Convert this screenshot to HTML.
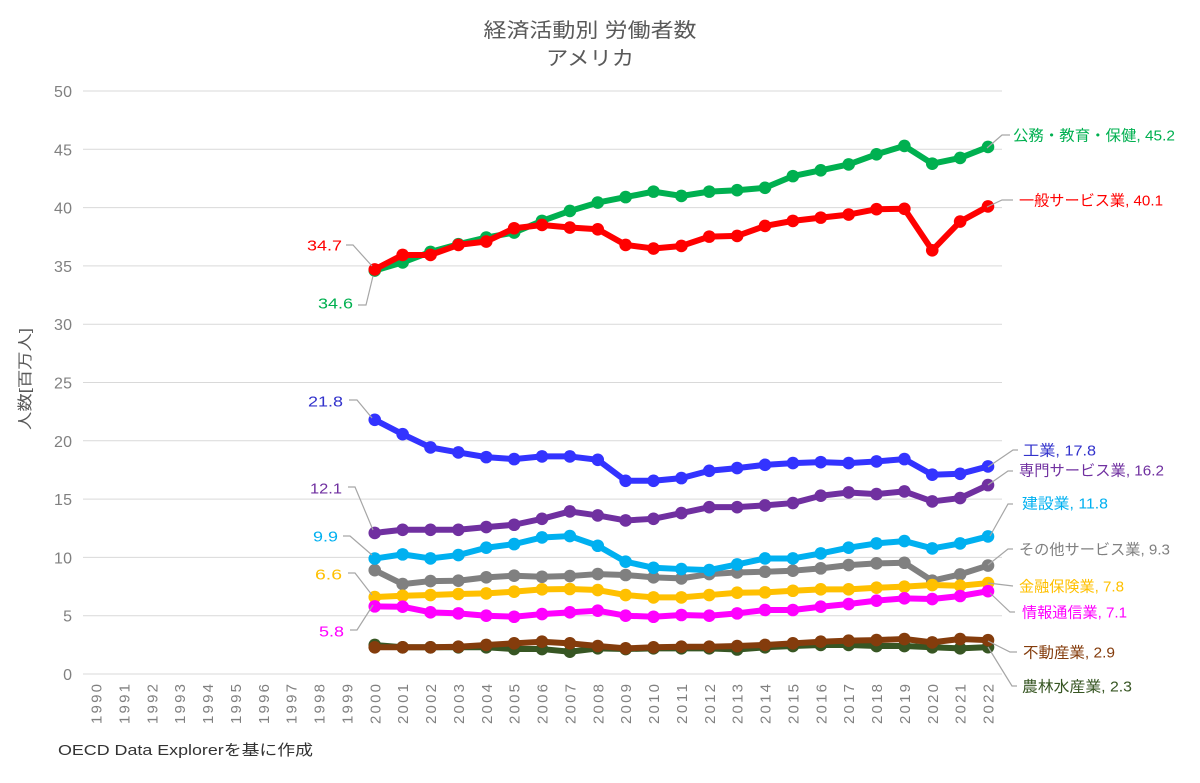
<!DOCTYPE html>
<html><head><meta charset="utf-8">
<style>
html,body{margin:0;padding:0;background:#fff;}
svg{display:block;}
text{font-family:"Liberation Sans","Noto Sans CJK JP",sans-serif;}
</style></head>
<body>
<svg id="c" width="1200" height="783" viewBox="0 0 1200 783" xmlns="http://www.w3.org/2000/svg">
<rect width="1200" height="783" fill="#fff"/>
<!-- title -->
<text x="590" y="37" font-size="20" fill="#595959" text-anchor="middle" textLength="213" lengthAdjust="spacingAndGlyphs">経済活動別 労働者数</text>
<text x="590" y="65" font-size="20" fill="#595959" text-anchor="middle" textLength="88" lengthAdjust="spacingAndGlyphs">アメリカ</text>
<!-- gridlines -->
<g stroke="#D9D9D9" stroke-width="1">
<line x1="83" x2="1002" y1="91" y2="91"/>
<line x1="83" x2="1002" y1="149.3" y2="149.3"/>
<line x1="83" x2="1002" y1="207.6" y2="207.6"/>
<line x1="83" x2="1002" y1="265.9" y2="265.9"/>
<line x1="83" x2="1002" y1="324.2" y2="324.2"/>
<line x1="83" x2="1002" y1="382.5" y2="382.5"/>
<line x1="83" x2="1002" y1="440.8" y2="440.8"/>
<line x1="83" x2="1002" y1="499.1" y2="499.1"/>
<line x1="83" x2="1002" y1="557.4" y2="557.4"/>
<line x1="83" x2="1002" y1="615.7" y2="615.7"/>
<line x1="83" x2="1002" y1="674" y2="674"/>
</g>
<!-- y tick labels -->
<g font-size="16" fill="#808080" text-anchor="end" lengthAdjust="spacingAndGlyphs">
<text x="72" y="97" textLength="18">50</text>
<text x="72" y="155.3" textLength="18">45</text>
<text x="72" y="213.6" textLength="18">40</text>
<text x="72" y="271.9" textLength="18">35</text>
<text x="72" y="330.2" textLength="18">30</text>
<text x="72" y="388.5" textLength="18">25</text>
<text x="72" y="446.8" textLength="18">20</text>
<text x="72" y="505.1" textLength="18">15</text>
<text x="72" y="563.4" textLength="18">10</text>
<text x="72" y="621.7">5</text>
<text x="72" y="680">0</text>
</g>
<!-- y axis title -->
<text transform="translate(30,379) rotate(-90)" font-size="15" fill="#595959" text-anchor="middle" textLength="102" lengthAdjust="spacingAndGlyphs">人数[百万人]</text>
<!-- x labels -->
<g font-size="15" fill="#808080" textLength="40" lengthAdjust="spacingAndGlyphs">
<text transform="translate(101.5,724) rotate(-90)" textLength="40">1990</text>
<text transform="translate(129.4,724) rotate(-90)" textLength="40">1991</text>
<text transform="translate(157.3,724) rotate(-90)" textLength="40">1992</text>
<text transform="translate(185.1,724) rotate(-90)" textLength="40">1993</text>
<text transform="translate(213,724) rotate(-90)" textLength="40">1994</text>
<text transform="translate(240.9,724) rotate(-90)" textLength="40">1995</text>
<text transform="translate(268.8,724) rotate(-90)" textLength="40">1996</text>
<text transform="translate(296.6,724) rotate(-90)" textLength="40">1997</text>
<text transform="translate(324.5,724) rotate(-90)" textLength="40">1998</text>
<text transform="translate(352.4,724) rotate(-90)" textLength="40">1999</text>
<text transform="translate(380.3,724) rotate(-90)" textLength="40">2000</text>
<text transform="translate(408.1,724) rotate(-90)" textLength="40">2001</text>
<text transform="translate(436,724) rotate(-90)" textLength="40">2002</text>
<text transform="translate(463.9,724) rotate(-90)" textLength="40">2003</text>
<text transform="translate(491.8,724) rotate(-90)" textLength="40">2004</text>
<text transform="translate(519.6,724) rotate(-90)" textLength="40">2005</text>
<text transform="translate(547.5,724) rotate(-90)" textLength="40">2006</text>
<text transform="translate(575.4,724) rotate(-90)" textLength="40">2007</text>
<text transform="translate(603.3,724) rotate(-90)" textLength="40">2008</text>
<text transform="translate(631.1,724) rotate(-90)" textLength="40">2009</text>
<text transform="translate(659,724) rotate(-90)" textLength="40">2010</text>
<text transform="translate(686.9,724) rotate(-90)" textLength="40">2011</text>
<text transform="translate(714.8,724) rotate(-90)" textLength="40">2012</text>
<text transform="translate(742.6,724) rotate(-90)" textLength="40">2013</text>
<text transform="translate(770.5,724) rotate(-90)" textLength="40">2014</text>
<text transform="translate(798.4,724) rotate(-90)" textLength="40">2015</text>
<text transform="translate(826.3,724) rotate(-90)" textLength="40">2016</text>
<text transform="translate(854.1,724) rotate(-90)" textLength="40">2017</text>
<text transform="translate(882,724) rotate(-90)" textLength="40">2018</text>
<text transform="translate(909.9,724) rotate(-90)" textLength="40">2019</text>
<text transform="translate(937.8,724) rotate(-90)" textLength="40">2020</text>
<text transform="translate(965.6,724) rotate(-90)" textLength="40">2021</text>
<text transform="translate(993.5,724) rotate(-90)" textLength="40">2022</text>
</g>
<!-- series container -->
<g id="series"></g>
<!-- leader lines -->
<g fill="none" stroke="#A6A6A6" stroke-width="1.2">
<polyline points="987,148 1002,135 1010,135"/>
<polyline points="987,207 1002,200 1013,200"/>
<polyline points="988,467 1013,450 1018,450"/>
<polyline points="988,485 1008,471 1013,471"/>
<polyline points="990,536 1008,504 1013,504"/>
<polyline points="988,565 1008,549 1013,549"/>
<polyline points="988,583 1013,586"/>
<polyline points="990,593 1010,612 1015,612"/>
<polyline points="988,641 1010,652 1017,652"/>
<polyline points="988,647 1012,686 1017,686"/>
<polyline points="346,245 353,245 372,266"/>
<polyline points="358,305 366,305 373,276"/>
<polyline points="349,400 357,400 372,418"/>
<polyline points="348,487 355,487 373,530"/>
<polyline points="343,536 350,536 372,555"/>
<polyline points="348,573 355,573 372,595"/>
<polyline points="350,630 357,630 373,605"/>
</g>
<!-- right labels -->
<g font-size="15" lengthAdjust="spacingAndGlyphs">
<text x="1013" y="140.5" fill="#00B050" textLength="162" lengthAdjust="spacingAndGlyphs">公務・教育・保健, 45.2</text>
<text x="1019" y="205.5" fill="#FF0000" textLength="144" lengthAdjust="spacingAndGlyphs">一般サービス業, 40.1</text>
<text x="1023" y="455.5" fill="#3333CC" textLength="73" lengthAdjust="spacingAndGlyphs">工業, 17.8</text>
<text x="1019" y="475.5" fill="#7030A0" textLength="145" lengthAdjust="spacingAndGlyphs">専門サービス業, 16.2</text>
<text x="1022" y="508.5" fill="#00B0F0" textLength="86" lengthAdjust="spacingAndGlyphs">建設業, 11.8</text>
<text x="1019" y="554.5" fill="#808080" textLength="151" lengthAdjust="spacingAndGlyphs">その他サービス業, 9.3</text>
<text x="1019" y="591.5" fill="#FFC000" textLength="105" lengthAdjust="spacingAndGlyphs">金融保険業, 7.8</text>
<text x="1022" y="617.5" fill="#FF00FF" textLength="105" lengthAdjust="spacingAndGlyphs">情報通信業, 7.1</text>
<text x="1023" y="657.5" fill="#843C0C" textLength="92" lengthAdjust="spacingAndGlyphs">不動産業, 2.9</text>
<text x="1022" y="691.5" fill="#375623" textLength="110" lengthAdjust="spacingAndGlyphs">農林水産業, 2.3</text>
</g>
<!-- left labels -->
<g font-size="15" lengthAdjust="spacingAndGlyphs">
<text x="307" y="250.5" fill="#FF0000" textLength="35" lengthAdjust="spacingAndGlyphs">34.7</text>
<text x="318" y="308.5" fill="#00B050" textLength="35" lengthAdjust="spacingAndGlyphs">34.6</text>
<text x="308" y="406.5" fill="#3333CC" textLength="35" lengthAdjust="spacingAndGlyphs">21.8</text>
<text x="310" y="493.5" fill="#7030A0" textLength="32" lengthAdjust="spacingAndGlyphs">12.1</text>
<text x="313" y="541.5" fill="#00B0F0" textLength="25" lengthAdjust="spacingAndGlyphs">9.9</text>
<text x="315" y="579.5" fill="#FFC000" textLength="27" lengthAdjust="spacingAndGlyphs">6.6</text>
<text x="319" y="636.5" fill="#FF00FF" textLength="25" lengthAdjust="spacingAndGlyphs">5.8</text>
</g>
<!-- footer -->
<text x="58" y="755" font-size="15" fill="#333333" textLength="255" lengthAdjust="spacingAndGlyphs">OECD Data Explorerを基に作成</text>
</svg>
<script>
(function(){
var NS="http://www.w3.org/2000/svg";
var g=document.getElementById("series");
function X(i){return 96+i*27.875;}
function Y(v){return 674-v*11.66;}
var S=[
["#375623",[2.49,2.29,2.29,2.29,2.29,2.14,2.14,1.91,2.2,2.14,2.2,2.2,2.2,2.1,2.29,2.4,2.49,2.49,2.4,2.4,2.29,2.2,2.3]],
["#843C0C",[2.29,2.29,2.29,2.34,2.49,2.63,2.77,2.63,2.4,2.2,2.29,2.34,2.34,2.4,2.49,2.63,2.77,2.86,2.91,3.0,2.71,3.0,2.9]],
["#808080",[8.9,7.71,7.97,8.0,8.29,8.43,8.34,8.4,8.57,8.49,8.29,8.2,8.57,8.71,8.77,8.86,9.06,9.34,9.49,9.54,8.0,8.54,9.3]],
["#FFC000",[6.6,6.71,6.77,6.86,6.91,7.06,7.26,7.29,7.2,6.77,6.57,6.57,6.77,6.97,7.0,7.14,7.26,7.26,7.4,7.49,7.63,7.57,7.8]],
["#FF00FF",[5.8,5.77,5.29,5.2,5.0,4.91,5.14,5.29,5.43,5.0,4.91,5.06,5.0,5.2,5.49,5.49,5.77,6.0,6.29,6.49,6.43,6.69,7.1]],
["#00B0F0",[9.9,10.26,9.91,10.2,10.83,11.14,11.71,11.83,11.0,9.63,9.11,9.0,8.91,9.4,9.91,9.91,10.34,10.83,11.2,11.4,10.77,11.2,11.8]],
["#7030A0",[12.1,12.37,12.37,12.37,12.6,12.8,13.31,13.94,13.6,13.17,13.31,13.8,14.31,14.31,14.46,14.66,15.29,15.57,15.43,15.66,14.8,15.09,16.2]],
["#3333FF",[21.8,20.57,19.43,19.0,18.6,18.43,18.66,18.66,18.37,16.57,16.57,16.8,17.43,17.66,17.94,18.09,18.17,18.09,18.23,18.43,17.09,17.17,17.8]],
["#00B050",[34.6,35.3,36.2,36.86,37.43,37.86,38.86,39.71,40.43,40.9,41.37,41.0,41.37,41.49,41.7,42.7,43.2,43.7,44.57,45.29,43.77,44.26,45.2]],
["#FF0000",[34.7,35.94,35.94,36.8,37.09,38.23,38.51,38.29,38.14,36.8,36.49,36.71,37.51,37.57,38.43,38.86,39.14,39.4,39.86,39.9,36.34,38.8,40.1]]
];
S.forEach(function(s){
  var col=s[0],d=s[1],pts=[];
  for(var k=0;k<d.length;k++){pts.push(X(10+k).toFixed(2)+","+Y(d[k]).toFixed(2));}
  var pl=document.createElementNS(NS,"polyline");
  pl.setAttribute("points",pts.join(" "));
  pl.setAttribute("fill","none");
  pl.setAttribute("stroke",col);
  pl.setAttribute("stroke-width","6");
  pl.setAttribute("stroke-linejoin","round");
  pl.setAttribute("stroke-linecap","round");
  g.appendChild(pl);
  for(var k=0;k<d.length;k++){
    var c=document.createElementNS(NS,"circle");
    c.setAttribute("cx",X(10+k).toFixed(2));
    c.setAttribute("cy",Y(d[k]).toFixed(2));
    c.setAttribute("r","6.3");
    c.setAttribute("fill",col);
    g.appendChild(c);
  }
});
})();
</script>
</body></html>
